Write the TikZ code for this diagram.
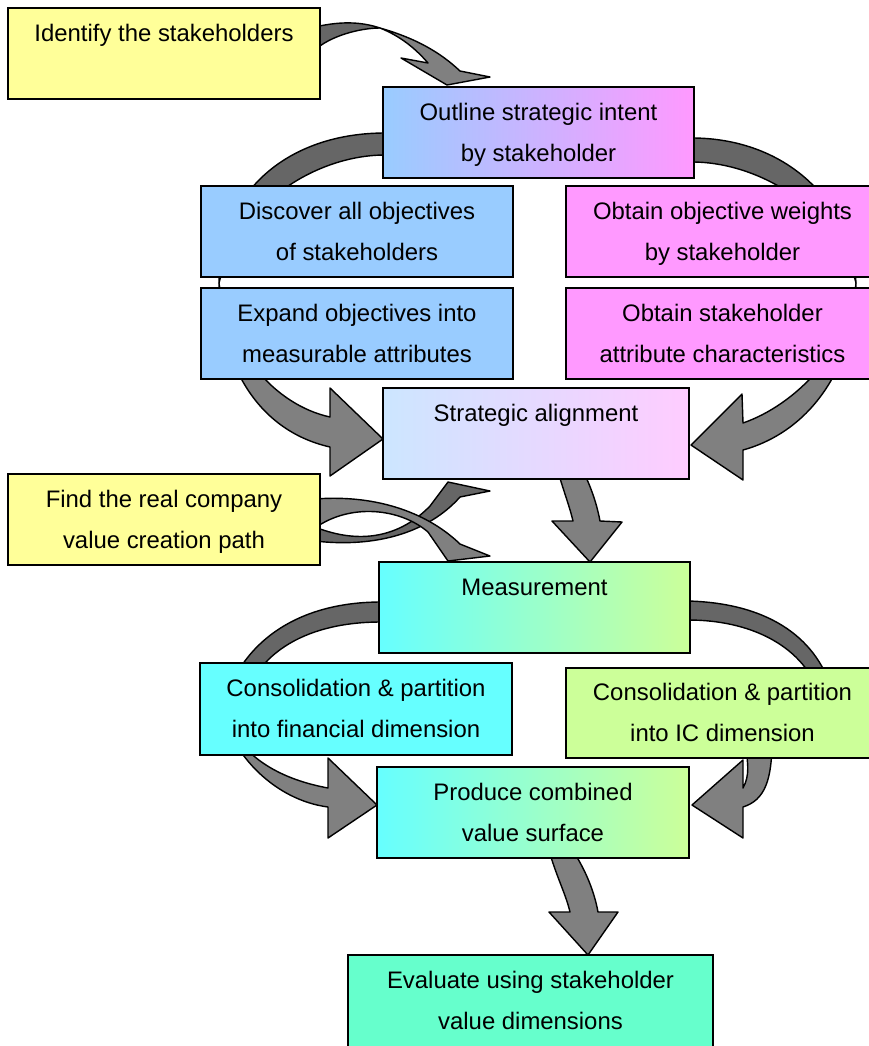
\documentclass[tikz,border=0pt]{standalone}
\usepackage{fontspec}
\setmainfont{Liberation Sans}
\definecolor{cyel}{HTML}{FFFF99}
\definecolor{cblue}{HTML}{99CCFF}
\definecolor{cpink}{HTML}{FF99FF}
\definecolor{clblue}{HTML}{CCE6FF}
\definecolor{clpink}{HTML}{FFCCFF}
\definecolor{ccyan}{HTML}{66FFFF}
\definecolor{cgreen}{HTML}{CCFF99}
\definecolor{cteal}{HTML}{66FFCC}
\definecolor{backgray}{HTML}{666666}
\definecolor{frontgray}{HTML}{808080}
% #8 = distance (px) from the box top to the baseline of the last text line
\newcommand\flowbox[8]{%
  \node[boxst,#6,minimum width={(#4-#2)*0.02cm},minimum height={(#5-#3)*0.02cm},anchor=north west] (#1) at (#2,#3) {};
  \node[txtst,anchor=base] (#1t) at ([yshift={-#8*0.02cm}]#1.north) {#7};
}
\begin{document}
\begin{tikzpicture}[x=0.02cm,y=-0.02cm,
  boxst/.style={draw=black,line width=1pt,rectangle,inner sep=0pt,outer sep=0pt},
  txtst/.style={inner sep=0pt,align=center,font=\fontsize{13.6}{23.3}\selectfont},
  backarr/.style={fill=backgray,draw=black,line width=0.8pt,line join=round},
  frontarr/.style={fill=frontgray,draw=black,line width=0.8pt,line join=round}]
\useasboundingbox (0,0) rectangle (869,1046);

% ---- arrow 1: Identify -> Outline
\path[backarr] (315,27) .. controls (345,20) and (365,23) .. (380,28)
  .. controls (360,28) and (330,36) .. (315,50) -- cycle;
\path[frontarr] (380,28) .. controls (415,38) and (440,52) .. (460,71)
  -- (490,77) -- (447,85) -- (401,58) -- (428,63)
  .. controls (415,48) and (400,36) .. (380,28) -- cycle;

% ---- left loop: Outline -> Strategic
\path[backarr] (385,133) .. controls (290,133) and (219,190) .. (219,283)
  .. controls (240,200) and (320,155) .. (385,155) -- cycle;
\path[frontarr] (219,283) .. controls (219,360) and (255,430) .. (330,447)
  -- (330,476) -- (383,439) -- (330,388) -- (330,417)
  .. controls (275,405) and (228,350) .. (219,283) -- cycle;

% ---- right loop: Outline -> Strategic
\path[backarr] (692,138) .. controls (780,138) and (850,195) .. (856,283)
  .. controls (838,210) and (760,162) .. (692,162) -- cycle;
\path[frontarr] (856,283) .. controls (856,360) and (815,430) .. (743,450)
  -- (743,480) -- (691,445) -- (742,394) -- (743,423)
  .. controls (795,405) and (850,350) .. (856,283) -- cycle;

% ---- Strategic -> Measurement
\path[frontarr] (559,475) .. controls (565,495) and (570,508) .. (573,521)
  -- (552,521) -- (590,562) -- (622,522) -- (600,521)
  .. controls (597,505) and (592,490) .. (585,475) -- cycle;

% ---- crossed arrows: Find -> Strategic / Measurement
\path[backarr] (315,527) .. controls (360,545) and (400,537) .. (430,506)
  -- (448,482) -- (490,491) -- (460,497)
  .. controls (428,533) and (375,548) .. (315,541) -- cycle;
\path[frontarr] (315,499) .. controls (380,494) and (430,515) .. (460,544)
  -- (490,556) -- (448,561) -- (428,532)
  .. controls (400,508) and (350,503) .. (315,528) -- cycle;

% ---- left loop: Measurement -> Produce
\path[backarr] (381,602) .. controls (300,602) and (240,640) .. (222,710)
  -- (240,710) .. controls (255,650) and (310,622) .. (381,622) -- cycle;
\path[frontarr] (222,710) .. controls (232,755) and (275,800) .. (328,807)
  -- (328,838) -- (377,805) -- (328,758) -- (328,788)
  .. controls (285,780) and (240,760) .. (222,710) -- cycle;

% ---- right loop: Measurement -> Produce
\path[backarr] (688,601) .. controls (765,603) and (815,635) .. (832,690)
  -- (818,690) .. controls (800,645) and (750,620) .. (688,620) -- cycle;
\path[frontarr] (745,740) -- (772,740) .. controls (772,780) and (765,800) .. (743,807)
  -- (743,838) -- (692,805) -- (743,760) -- (743,788)
  .. controls (750,775) and (748,765) .. (745,740) -- cycle;

% ---- Produce -> Evaluate
\path[frontarr] (550,854) .. controls (558,880) and (566,895) .. (570,912)
  -- (549,912) -- (588,955) -- (618,912) -- (598,912)
  .. controls (594,890) and (585,870) .. (575,854) -- cycle;

% ---- boxes
\flowbox{b1}{8}{8}{320}{99}{fill=cyel}{Identify the stakeholders}{33}
\flowbox{b2}{383}{87}{694}{178}{left color=cblue,right color=cpink}{Outline strategic intent\\by stakeholder}{74}
\flowbox{b3}{201}{186}{513}{277}{fill=cblue}{Discover all objectives\\of stakeholders}{74}
\flowbox{b4}{566}{186}{879}{277}{fill=cpink}{Obtain objective weights\\by stakeholder}{74}
\flowbox{b5}{201}{288}{513}{379}{fill=cblue}{Expand objectives into\\measurable attributes}{74}
\flowbox{b6}{566}{288}{879}{379}{fill=cpink}{Obtain stakeholder\\attribute characteristics}{74}
\flowbox{b7}{383}{388}{689}{479}{left color=clblue,right color=clpink}{Strategic alignment}{33}
\flowbox{b8}{8}{474}{320}{565}{fill=cyel}{Find the real company\\value creation path}{74}
\flowbox{b9}{379}{562}{690}{653}{left color=ccyan,right color=cgreen}{Measurement}{33}
\flowbox{b10}{200}{663}{512}{755}{fill=ccyan}{Consolidation \& partition\\into financial dimension}{74}
\flowbox{b11}{566}{668}{879}{758}{fill=cgreen}{Consolidation \& partition\\into IC dimension}{73}
\flowbox{b12}{377}{767}{689}{858}{left color=ccyan,right color=cgreen}{Produce combined\\value surface}{74}
\flowbox{b13}{348}{955}{713}{1060}{fill=cteal}{Evaluate using stakeholder\\value dimensions}{74}
\end{tikzpicture}
\end{document}
